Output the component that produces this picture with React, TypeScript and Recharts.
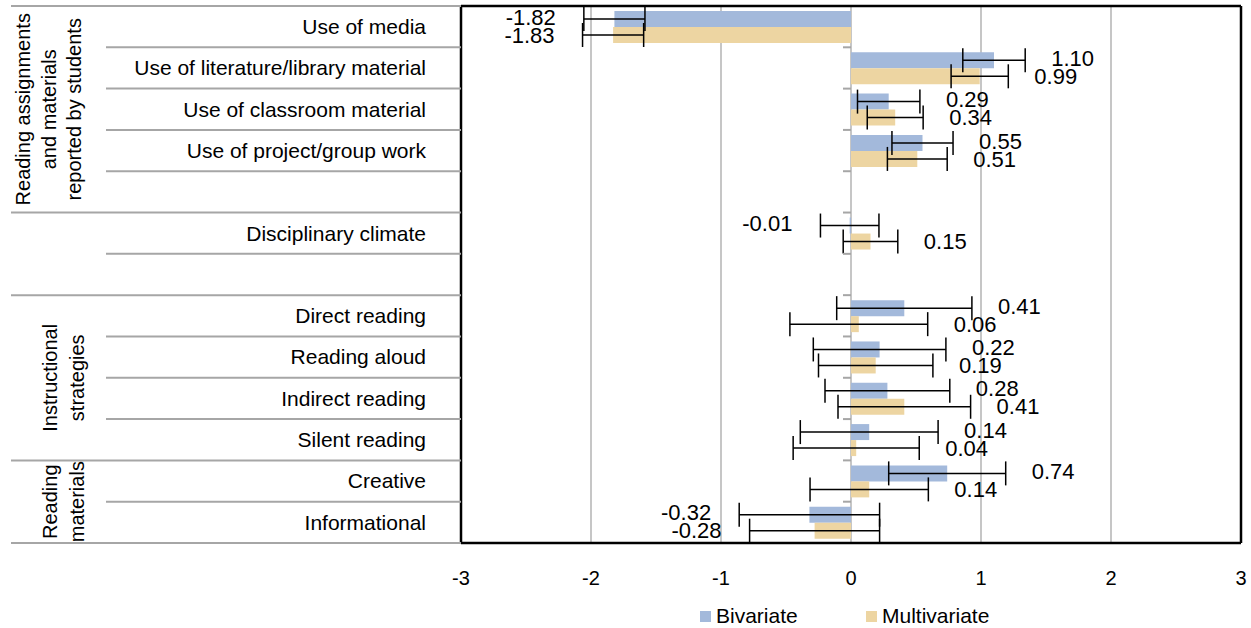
import React from 'react';
import {
  BarChart,
  Bar,
  XAxis,
  YAxis,
  CartesianGrid,
  ErrorBar,
  LabelList,
  Legend,
  ReferenceLine
} from 'recharts';

// rows, top to bottom ('' = spacer row)
const categories = [
  'Use of media',
  'Use of literature/library material',
  'Use of classroom material',
  'Use of project/group work',
  '',
  'Disciplinary climate',
  '',
  'Direct reading',
  'Reading aloud',
  'Indirect reading',
  'Silent reading',
  'Creative',
  'Informational'
];

const bivariate = [-1.82, 1.1, 0.29, 0.55, null, -0.01, null, 0.41, 0.22, 0.28, 0.14, 0.74, -0.32];
const multivariate = [-1.83, 0.99, 0.34, 0.51, null, 0.15, null, 0.06, 0.19, 0.41, 0.04, 0.14, -0.28];
const bivariateErr = [0.235, 0.24, 0.24, 0.235, null, 0.225, null, 0.52, 0.51, 0.48, 0.53, 0.45, 0.54];
const multivariateErr = [0.235, 0.22, 0.215, 0.23, null, 0.21, null, 0.53, 0.44, 0.51, 0.485, 0.455, 0.5];

const xTicks = [-3, -2, -1, 0, 1, 2, 3];

const groups = [
  { lines: ['Reading assignments', 'and materials', 'reported by students'], from: 0, to: 4, base: [30, 56, 81] },
  { lines: ['Instructional', 'strategies'], from: 7, to: 10, base: [57, 84] },
  { lines: ['Reading', 'materials'], from: 11, to: 12, base: [57, 84] }
];
// rows whose bottom edge gets a full-width rule
const fullRules = [4, 6, 10, 12];

const data = categories.map((name, i) => ({
  id: `r${i}`,
  name,
  bivariate: bivariate[i],
  multivariate: multivariate[i],
  bivariateErr: bivariateErr[i],
  multivariateErr: multivariateErr[i]
}));

const W = 1251;
const H = 628;
const MARGIN = { top: 6, right: 10, left: 0, bottom: 0 };
const Y_W = 461;
const X_H = 50;
const LEGEND_H = 35;
const PLOT_LEFT = MARGIN.left + Y_W;
const PLOT_W = W - PLOT_LEFT - MARGIN.right;
const PLOT_H = H - MARGIN.top - X_H - LEGEND_H - MARGIN.bottom;
const BAND = PLOT_H / categories.length;
const X_MIN = -3;
const X_MAX = 3;
const PX = PLOT_W / (X_MAX - X_MIN);
const ZERO_X = PLOT_LEFT + (0 - X_MIN) * PX;

const BLUE = '#a3b9db';
const TAN = '#edd5a2';
const RULE = '#a6a6a6';
const FONT = '"Liberation Sans", Arial, sans-serif';

const CategoryTick = (props: any) => {
  const { y, payload } = props;
  const index: number = payload.index;
  const name = categories[index];
  const top = y - BAND / 2;
  const bottom = y + BAND / 2;
  const full = fullRules.includes(index);
  const group = groups.find((g) => g.to === index);
  return (
    <g>
      {index === 0 && (
        <>
          <line x1={11} x2={PLOT_LEFT} y1={top} y2={top} stroke={RULE} strokeWidth={2} />
          {/* top edge of the plot frame */}
          <line x1={PLOT_LEFT} x2={PLOT_LEFT + PLOT_W} y1={top} y2={top} stroke="#000" strokeWidth={2.5} />
        </>
      )}
      <line x1={full ? 11 : 106} x2={PLOT_LEFT} y1={bottom} y2={bottom} stroke={RULE} strokeWidth={2} />
      {index < categories.length - 1 && (
        <line x1={ZERO_X - 8} x2={ZERO_X} y1={bottom} y2={bottom} stroke={RULE} strokeWidth={2} />
      )}
      {name && (
        <text x={426} y={y} dy="0.35em" textAnchor="end" fontSize={21} fill="#000" fontFamily={FONT}>
          {name}
        </text>
      )}
      {group &&
        group.lines.map((line, i) => {
          const cy = y + BAND / 2 - ((group.to - group.from + 1) * BAND) / 2;
          return (
            <text
              key={line}
              transform={`translate(${group.base[i]},${cy}) rotate(-90)`}
              textAnchor="middle"
              fontSize={20}
              fill="#000"
              fontFamily={FONT}
            >
              {line}
            </text>
          );
        })}
    </g>
  );
};

// LabelList skips empty rows, so find the row from the bar's position
const makeValueLabel = (values: (number | null)[], errs: (number | null)[], shift: number) => (props: any) => {
  const { y, height } = props;
  const cy = Number(y) + Number(height) / 2;
  const row = Math.floor((cy - MARGIN.top) / BAND);
  const v = values[row];
  if (v == null) return null;
  const e = errs[row] ?? 0;
  const pos = v >= 0;
  const x = pos ? ZERO_X + (v + e) * PX + 26 : ZERO_X + (v - e) * PX - 28;
  return (
    <text x={x} y={cy + shift} dy="0.35em" textAnchor={pos ? 'start' : 'end'} fontSize={22} fill="#000" fontFamily={FONT}>
      {v.toFixed(2)}
    </text>
  );
};

const legendItems = [
  { label: 'Bivariate', color: BLUE, left: 700 },
  { label: 'Multivariate', color: TAN, left: 866 }
];

const ChartLegend = () => (
  <div style={{ position: 'relative', width: W, height: LEGEND_H, fontFamily: FONT }}>
    {legendItems.map((item) => (
      <div
        key={item.label}
        style={{ position: 'absolute', left: item.left, top: 11, display: 'flex', alignItems: 'center', fontSize: 21, color: '#000' }}
      >
        <span style={{ width: 11, height: 11, background: item.color, display: 'inline-block', marginRight: 5 }} />
        {item.label}
      </div>
    ))}
  </div>
);

const App = () => {
  return (
    <div style={{ position: 'absolute', left: 0, top: 0, width: W, height: H }}>
      <BarChart
        width={W}
        height={H}
        data={data}
        layout="vertical"
        margin={MARGIN}
        barSize={16}
        barGap={0}
        style={{ fontFamily: FONT }}
      >
        <CartesianGrid horizontal={false} stroke="#b3b3b3" strokeWidth={1.5} />
        <XAxis
          type="number"
          domain={[X_MIN, X_MAX]}
          ticks={xTicks}
          tickLine={false}
          axisLine={{ stroke: '#000', strokeWidth: 2.5 }}
          height={X_H}
          tickMargin={22}
          tick={{ fontSize: 20, fill: '#000', fontFamily: FONT }}
        />
        <YAxis
          type="category"
          dataKey="id"
          width={Y_W}
          interval={0}
          tickLine={false}
          axisLine={false}
          tick={<CategoryTick />}
        />
        <Legend verticalAlign="bottom" height={LEGEND_H} wrapperStyle={{ left: 0, width: W }} content={<ChartLegend />} />
        <Bar dataKey="bivariate" name="Bivariate" fill={BLUE} isAnimationActive={false}>
          <ErrorBar dataKey="bivariateErr" direction="x" width={12} stroke="#000" strokeWidth={1.5} />
          <LabelList dataKey="bivariate" content={makeValueLabel(bivariate, bivariateErr, -2)} />
        </Bar>
        <Bar dataKey="multivariate" name="Multivariate" fill={TAN} isAnimationActive={false}>
          <ErrorBar dataKey="multivariateErr" direction="x" width={12} stroke="#000" strokeWidth={1.5} />
          <LabelList dataKey="multivariate" content={makeValueLabel(multivariate, multivariateErr, 0)} />
        </Bar>
        <ReferenceLine x={X_MIN} stroke="#000" strokeWidth={2.5} ifOverflow="visible" />
        <ReferenceLine x={X_MAX} stroke="#000" strokeWidth={2.5} ifOverflow="visible" />
      </BarChart>
    </div>
  );
};

export default App;
